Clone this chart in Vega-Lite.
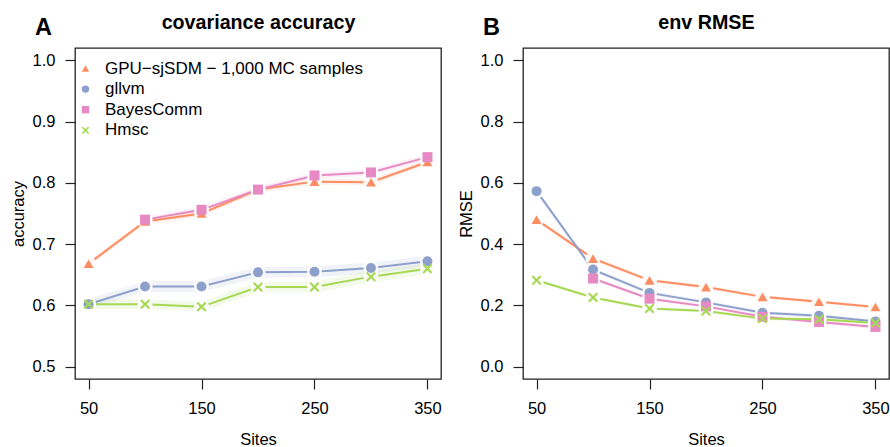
{
  "$schema": "https://vega.github.io/schema/vega-lite/v6.json",
  "autosize": {"type": "pad"},
  "padding": {"left": 9, "top": 11, "right": 0, "bottom": 0},
  "background": "white",
  "bounds": "flush",
  "spacing": 82,
  "datasets": {
    "acc": [
      {"sites": 50, "model": "GPU−sjSDM − 1,000 MC samples", "value": 0.668, "lo": 0.663, "hi": 0.673},
      {"sites": 100, "model": "GPU−sjSDM − 1,000 MC samples", "value": 0.737, "lo": 0.732, "hi": 0.742},
      {"sites": 150, "model": "GPU−sjSDM − 1,000 MC samples", "value": 0.750, "lo": 0.745, "hi": 0.755},
      {"sites": 200, "model": "GPU−sjSDM − 1,000 MC samples", "value": 0.789, "lo": 0.784, "hi": 0.794},
      {"sites": 250, "model": "GPU−sjSDM − 1,000 MC samples", "value": 0.802, "lo": 0.797, "hi": 0.807},
      {"sites": 300, "model": "GPU−sjSDM − 1,000 MC samples", "value": 0.801, "lo": 0.796, "hi": 0.806},
      {"sites": 350, "model": "GPU−sjSDM − 1,000 MC samples", "value": 0.834, "lo": 0.829, "hi": 0.839},
      {"sites": 50, "model": "gllvm", "value": 0.602, "lo": 0.594, "hi": 0.610},
      {"sites": 100, "model": "gllvm", "value": 0.631, "lo": 0.622, "hi": 0.640},
      {"sites": 150, "model": "gllvm", "value": 0.631, "lo": 0.622, "hi": 0.640},
      {"sites": 200, "model": "gllvm", "value": 0.654, "lo": 0.645, "hi": 0.663},
      {"sites": 250, "model": "gllvm", "value": 0.655, "lo": 0.646, "hi": 0.664},
      {"sites": 300, "model": "gllvm", "value": 0.661, "lo": 0.652, "hi": 0.670},
      {"sites": 350, "model": "gllvm", "value": 0.672, "lo": 0.663, "hi": 0.681},
      {"sites": 100, "model": "BayesComm", "value": 0.740, "lo": 0.735, "hi": 0.745},
      {"sites": 150, "model": "BayesComm", "value": 0.756, "lo": 0.751, "hi": 0.761},
      {"sites": 200, "model": "BayesComm", "value": 0.789, "lo": 0.784, "hi": 0.794},
      {"sites": 250, "model": "BayesComm", "value": 0.812, "lo": 0.807, "hi": 0.817},
      {"sites": 300, "model": "BayesComm", "value": 0.817, "lo": 0.812, "hi": 0.822},
      {"sites": 350, "model": "BayesComm", "value": 0.842, "lo": 0.837, "hi": 0.847},
      {"sites": 50, "model": "Hmsc", "value": 0.602, "lo": 0.594, "hi": 0.610},
      {"sites": 100, "model": "Hmsc", "value": 0.602, "lo": 0.594, "hi": 0.610},
      {"sites": 150, "model": "Hmsc", "value": 0.598, "lo": 0.590, "hi": 0.606},
      {"sites": 200, "model": "Hmsc", "value": 0.630, "lo": 0.621, "hi": 0.639},
      {"sites": 250, "model": "Hmsc", "value": 0.630, "lo": 0.621, "hi": 0.639},
      {"sites": 300, "model": "Hmsc", "value": 0.647, "lo": 0.638, "hi": 0.656},
      {"sites": 350, "model": "Hmsc", "value": 0.660, "lo": 0.651, "hi": 0.669}
    ],
    "rmse": [
      {"sites": 50, "model": "GPU−sjSDM − 1,000 MC samples", "value": 0.480, "lo": 0.472, "hi": 0.488},
      {"sites": 100, "model": "GPU−sjSDM − 1,000 MC samples", "value": 0.353, "lo": 0.346, "hi": 0.360},
      {"sites": 150, "model": "GPU−sjSDM − 1,000 MC samples", "value": 0.282, "lo": 0.276, "hi": 0.288},
      {"sites": 200, "model": "GPU−sjSDM − 1,000 MC samples", "value": 0.260, "lo": 0.254, "hi": 0.266},
      {"sites": 250, "model": "GPU−sjSDM − 1,000 MC samples", "value": 0.228, "lo": 0.222, "hi": 0.234},
      {"sites": 300, "model": "GPU−sjSDM − 1,000 MC samples", "value": 0.212, "lo": 0.206, "hi": 0.218},
      {"sites": 350, "model": "GPU−sjSDM − 1,000 MC samples", "value": 0.195, "lo": 0.189, "hi": 0.201},
      {"sites": 50, "model": "gllvm", "value": 0.573, "lo": 0.565, "hi": 0.581},
      {"sites": 100, "model": "gllvm", "value": 0.317, "lo": 0.310, "hi": 0.324},
      {"sites": 150, "model": "gllvm", "value": 0.241, "lo": 0.235, "hi": 0.247},
      {"sites": 200, "model": "gllvm", "value": 0.210, "lo": 0.204, "hi": 0.216},
      {"sites": 250, "model": "gllvm", "value": 0.176, "lo": 0.170, "hi": 0.182},
      {"sites": 300, "model": "gllvm", "value": 0.166, "lo": 0.160, "hi": 0.172},
      {"sites": 350, "model": "gllvm", "value": 0.148, "lo": 0.142, "hi": 0.154},
      {"sites": 100, "model": "BayesComm", "value": 0.288, "lo": 0.282, "hi": 0.294},
      {"sites": 150, "model": "BayesComm", "value": 0.222, "lo": 0.216, "hi": 0.228},
      {"sites": 200, "model": "BayesComm", "value": 0.197, "lo": 0.191, "hi": 0.203},
      {"sites": 250, "model": "BayesComm", "value": 0.163, "lo": 0.157, "hi": 0.169},
      {"sites": 300, "model": "BayesComm", "value": 0.146, "lo": 0.140, "hi": 0.152},
      {"sites": 350, "model": "BayesComm", "value": 0.130, "lo": 0.124, "hi": 0.136},
      {"sites": 50, "model": "Hmsc", "value": 0.282, "lo": 0.276, "hi": 0.288},
      {"sites": 100, "model": "Hmsc", "value": 0.226, "lo": 0.220, "hi": 0.232},
      {"sites": 150, "model": "Hmsc", "value": 0.190, "lo": 0.184, "hi": 0.196},
      {"sites": 200, "model": "Hmsc", "value": 0.182, "lo": 0.176, "hi": 0.188},
      {"sites": 250, "model": "Hmsc", "value": 0.157, "lo": 0.151, "hi": 0.163},
      {"sites": 300, "model": "Hmsc", "value": 0.155, "lo": 0.149, "hi": 0.161},
      {"sites": 350, "model": "Hmsc", "value": 0.143, "lo": 0.137, "hi": 0.149}
    ]
  },
  "hconcat": [
    {
      "width": 366,
      "height": 331,
      "data": {"name": "acc"},
      "title": {"text": "A", "anchor": "start", "frame": "group", "fontSize": 23.5, "fontWeight": "bold", "color": "black", "baseline": "alphabetic", "offset": -23, "dx": -40, "dy": 23},
      "layer": [
        {
          "mark": {"type": "area", "fillOpacity": 0.12},
          "encoding": {
            "x": {"field": "sites", "type": "quantitative", "scale": {"domain": [38, 362], "nice": false, "zero": false},
              "axis": {"orient": "bottom", "values": [50, 150, 250, 350], "title": "Sites", "labelPadding": 11, "titlePadding": 15, "labelFlush": false}},
            "y": {"field": "lo", "type": "quantitative", "scale": {"domain": [0.48, 1.02], "nice": false, "zero": false},
              "axis": {"values": [0.5, 0.6, 0.7, 0.8, 0.9, 1.0], "format": ".1f", "title": "accuracy", "labelPadding": 10, "titlePadding": 6}},
            "y2": {"field": "hi"},
            "fill": {"field": "model", "type": "nominal", "legend": null,
              "scale": {"domain": ["Hmsc", "BayesComm", "gllvm", "GPU−sjSDM − 1,000 MC samples"], "range": ["#A6D854", "#E78AC3", "#8DA0CB", "#FC8D62"]}}
          }
        },
        {
          "mark": {"type": "line", "strokeWidth": 2},
          "encoding": {
            "x": {"field": "sites", "type": "quantitative", "axis": null},
            "y": {"field": "value", "type": "quantitative"},
            "stroke": {"field": "model", "type": "nominal", "legend": null,
              "scale": {"domain": ["gllvm", "GPU−sjSDM − 1,000 MC samples", "Hmsc", "BayesComm"], "range": ["#8DA0CB", "#FC8D62", "#A6D854", "#E78AC3"]}}
          }
        },
        {
          "mark": {"type": "point", "filled": true, "color": "white", "opacity": 0.9, "size": 225, "shape": "circle"},
          "encoding": {
            "x": {"field": "sites", "type": "quantitative",
              "axis": {"orient": "top", "title": "covariance accuracy", "labels": false, "ticks": false, "tickSize": 0, "titleFontSize": 19.7, "titleFontWeight": "bold", "titlePadding": 16}},
            "y": {"field": "value", "type": "quantitative"}
          }
        },
        {
          "mark": {"type": "point", "filled": true, "opacity": 1, "size": 100},
          "encoding": {
            "x": {"field": "sites", "type": "quantitative", "axis": null},
            "y": {"field": "value", "type": "quantitative"},
            "color": {"field": "model", "type": "nominal", "title": null,
              "scale": {"domain": ["GPU−sjSDM − 1,000 MC samples", "gllvm", "BayesComm", "Hmsc"], "range": ["#FC8D62", "#8DA0CB", "#E78AC3", "#A6D854"]},
              "legend": {"orient": "none", "legendX": 2, "legendY": 12, "labelFontSize": 17, "labelLimit": 500, "symbolSize": 55, "rowPadding": 2.6, "padding": 0, "labelOffset": 11, "labelColor": "black", "symbolStrokeWidth": 0, "symbolOpacity": 1}},
            "shape": {"field": "model", "type": "nominal", "title": null,
              "scale": {"domain": ["GPU−sjSDM − 1,000 MC samples", "gllvm", "BayesComm", "Hmsc"], "range": ["triangle-up", "circle", "square", "M-1,-0.7L-0.7,-1L0,-0.3L0.7,-1L1,-0.7L0.3,0L1,0.7L0.7,1L0,0.3L-0.7,1L-1,0.7L-0.3,0Z"]}}
          }
        }
      ]
    },
    {
      "width": 366,
      "height": 331,
      "data": {"name": "rmse"},
      "title": {"text": "B", "anchor": "start", "frame": "group", "fontSize": 23.5, "fontWeight": "bold", "color": "black", "baseline": "alphabetic", "offset": -23, "dx": -40, "dy": 23},
      "layer": [
        {
          "mark": {"type": "area", "fillOpacity": 0.12},
          "encoding": {
            "x": {"field": "sites", "type": "quantitative", "scale": {"domain": [38, 362], "nice": false, "zero": false},
              "axis": {"orient": "bottom", "values": [50, 150, 250, 350], "title": "Sites", "labelPadding": 11, "titlePadding": 15, "labelFlush": false}},
            "y": {"field": "lo", "type": "quantitative", "scale": {"domain": [-0.04, 1.04], "nice": false, "zero": false},
              "axis": {"values": [0, 0.2, 0.4, 0.6, 0.8, 1.0], "format": ".1f", "title": "RMSE", "labelPadding": 10, "titlePadding": 6}},
            "y2": {"field": "hi"},
            "fill": {"field": "model", "type": "nominal", "legend": null,
              "scale": {"domain": ["Hmsc", "BayesComm", "gllvm", "GPU−sjSDM − 1,000 MC samples"], "range": ["#A6D854", "#E78AC3", "#8DA0CB", "#FC8D62"]}}
          }
        },
        {
          "mark": {"type": "line", "strokeWidth": 2},
          "encoding": {
            "x": {"field": "sites", "type": "quantitative", "axis": null},
            "y": {"field": "value", "type": "quantitative"},
            "stroke": {"field": "model", "type": "nominal", "legend": null,
              "scale": {"domain": ["gllvm", "GPU−sjSDM − 1,000 MC samples", "Hmsc", "BayesComm"], "range": ["#8DA0CB", "#FC8D62", "#A6D854", "#E78AC3"]}}
          }
        },
        {
          "mark": {"type": "point", "filled": true, "color": "white", "opacity": 0.9, "size": 225, "shape": "circle"},
          "encoding": {
            "x": {"field": "sites", "type": "quantitative",
              "axis": {"orient": "top", "title": "env RMSE", "labels": false, "ticks": false, "tickSize": 0, "titleFontSize": 19.7, "titleFontWeight": "bold", "titlePadding": 16}},
            "y": {"field": "value", "type": "quantitative"}
          }
        },
        {
          "mark": {"type": "point", "filled": true, "opacity": 1, "size": 100},
          "encoding": {
            "x": {"field": "sites", "type": "quantitative", "axis": null},
            "y": {"field": "value", "type": "quantitative"},
            "color": {"field": "model", "type": "nominal", "title": null,
              "scale": {"domain": ["GPU−sjSDM − 1,000 MC samples", "gllvm", "BayesComm", "Hmsc"], "range": ["#FC8D62", "#8DA0CB", "#E78AC3", "#A6D854"]}},
            "shape": {"field": "model", "type": "nominal", "title": null,
              "scale": {"domain": ["GPU−sjSDM − 1,000 MC samples", "gllvm", "BayesComm", "Hmsc"], "range": ["triangle-up", "circle", "square", "M-1,-0.7L-0.7,-1L0,-0.3L0.7,-1L1,-0.7L0.3,0L1,0.7L0.7,1L0,0.3L-0.7,1L-1,0.7L-0.3,0Z"]}}
          }
        }
      ]
    }
  ],
  "config": {
    "font": "Liberation Sans",
    "view": {"stroke": "#222", "strokeWidth": 1.3},
    "title": {"color": "black"},
    "axis": {"labelFontSize": 16.5, "titleFontSize": 16.5, "titleFontWeight": "normal", "labelColor": "black", "titleColor": "black", "tickColor": "#222", "tickSize": 10, "tickWidth": 1.2, "grid": false, "domain": false, "labelAngle": 0}
  }
}
